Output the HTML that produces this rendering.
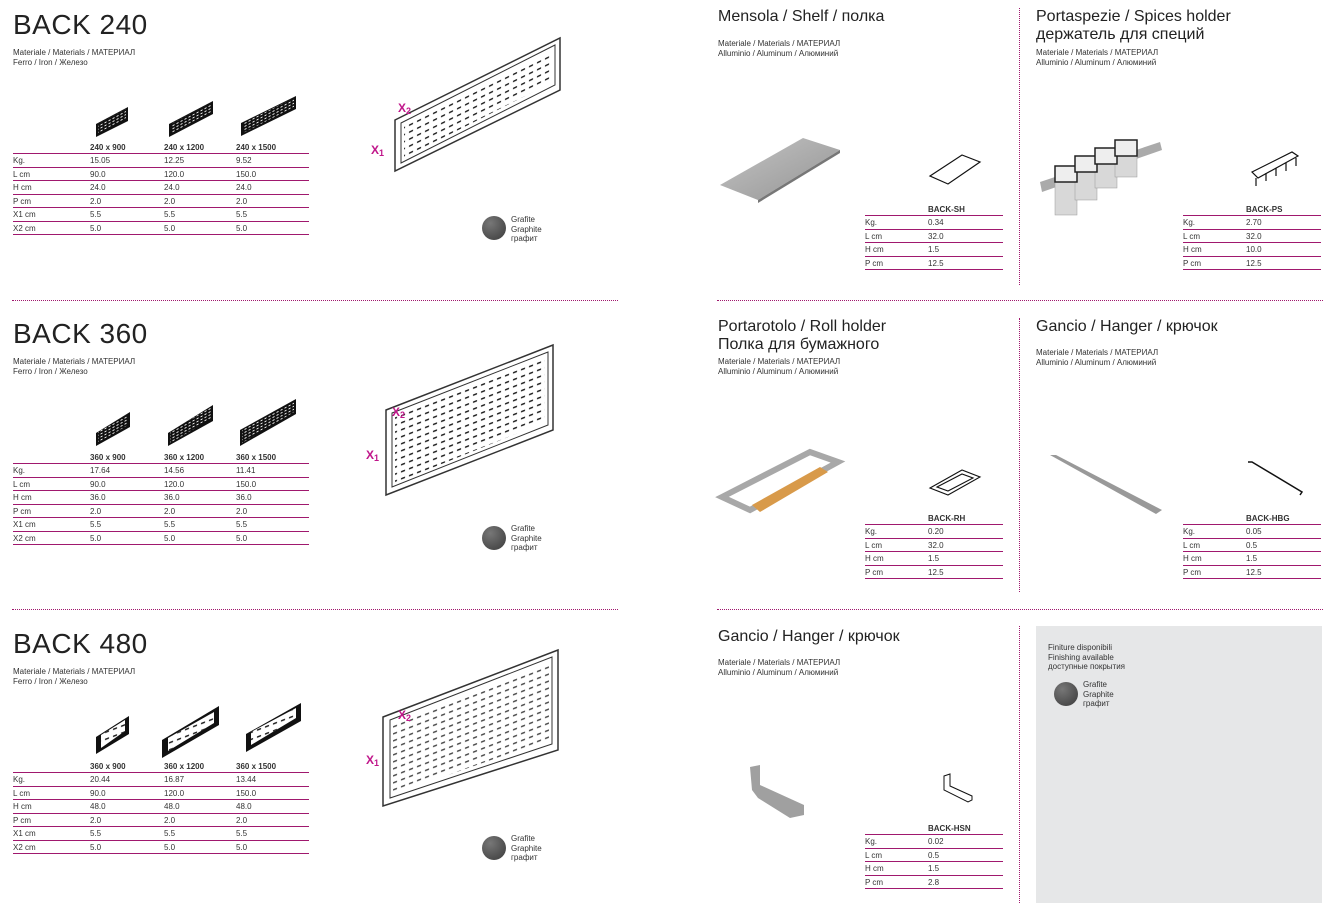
<!DOCTYPE html>
<html><head><meta charset="utf-8">
<style>
*{margin:0;padding:0;box-sizing:border-box}
body{width:1330px;height:910px;background:#fff;position:relative;overflow:hidden;font-family:"Liberation Sans","DejaVu Sans",sans-serif;color:#222}
.a{position:absolute}
.t1{font-size:28px;letter-spacing:0.5px;color:#222;line-height:28px}
.t2{font-size:16px;color:#222;line-height:18px}
.m{font-size:8px;line-height:9.5px;color:#333}
.tb{position:absolute;font-size:8px;color:#333}
.tb .r{height:14px;line-height:13px;border-bottom:1px solid #a0186e;position:relative}
.tb .r:nth-child(odd){height:13px}
.tb .h{font-weight:bold;border-bottom:1px solid #a0186e;height:11px!important;line-height:10px}
.tb span{position:absolute;top:0}
.hd{position:absolute;border-top:1px dotted #a0186e;height:0}
.vd{position:absolute;border-left:1px dotted #a0186e;width:0}
.dot{position:absolute;width:24px;height:24px;border-radius:50%;background:radial-gradient(circle at 35% 30%,#777,#3a3a3a)}
</style></head><body>

<div class="hd" style="left:12px;top:300px;width:606px"></div>
<div class="hd" style="left:12px;top:609px;width:606px"></div>
<div class="hd" style="left:717px;top:300px;width:606px"></div>
<div class="hd" style="left:717px;top:609px;width:606px"></div>
<div class="vd" style="left:1019px;top:8px;height:277px"></div>
<div class="vd" style="left:1019px;top:318px;height:274px"></div>
<div class="vd" style="left:1019px;top:626px;height:277px"></div>
<div class="a" style="left:1036px;top:626px;width:286px;height:277px;background:#e6e7e8"></div>

<div class="a t1" style="left:13px;top:11px">BACK 240</div>
<div class="a m" style="left:13px;top:48px">Materiale / Materials / МАТЕРИАЛ<br>Ferro / Iron / Железо</div>
<div class="a t1" style="left:13px;top:320px">BACK 360</div>
<div class="a m" style="left:13px;top:357px">Materiale / Materials / МАТЕРИАЛ<br>Ferro / Iron / Железо</div>
<div class="a t1" style="left:13px;top:630px">BACK 480</div>
<div class="a m" style="left:13px;top:667px">Materiale / Materials / МАТЕРИАЛ<br>Ferro / Iron / Железо</div>

<div class="tb" style="left:13px;top:143px;width:296px">
<div class="r h"><span style="left:77px">240 x 900</span><span style="left:151px">240 x 1200</span><span style="left:223px">240 x 1500</span></div>
<div class="r"><span>Kg.</span><span style="left:77px">15.05</span><span style="left:151px">12.25</span><span style="left:223px">9.52</span></div>
<div class="r"><span>L cm</span><span style="left:77px">90.0</span><span style="left:151px">120.0</span><span style="left:223px">150.0</span></div>
<div class="r"><span>H cm</span><span style="left:77px">24.0</span><span style="left:151px">24.0</span><span style="left:223px">24.0</span></div>
<div class="r"><span>P cm</span><span style="left:77px">2.0</span><span style="left:151px">2.0</span><span style="left:223px">2.0</span></div>
<div class="r"><span>X1 cm</span><span style="left:77px">5.5</span><span style="left:151px">5.5</span><span style="left:223px">5.5</span></div>
<div class="r"><span>X2 cm</span><span style="left:77px">5.0</span><span style="left:151px">5.0</span><span style="left:223px">5.0</span></div>
</div>
<div class="tb" style="left:13px;top:453px;width:296px">
<div class="r h"><span style="left:77px">360 x 900</span><span style="left:151px">360 x 1200</span><span style="left:223px">360 x 1500</span></div>
<div class="r"><span>Kg.</span><span style="left:77px">17.64</span><span style="left:151px">14.56</span><span style="left:223px">11.41</span></div>
<div class="r"><span>L cm</span><span style="left:77px">90.0</span><span style="left:151px">120.0</span><span style="left:223px">150.0</span></div>
<div class="r"><span>H cm</span><span style="left:77px">36.0</span><span style="left:151px">36.0</span><span style="left:223px">36.0</span></div>
<div class="r"><span>P cm</span><span style="left:77px">2.0</span><span style="left:151px">2.0</span><span style="left:223px">2.0</span></div>
<div class="r"><span>X1 cm</span><span style="left:77px">5.5</span><span style="left:151px">5.5</span><span style="left:223px">5.5</span></div>
<div class="r"><span>X2 cm</span><span style="left:77px">5.0</span><span style="left:151px">5.0</span><span style="left:223px">5.0</span></div>
</div>
<div class="tb" style="left:13px;top:762px;width:296px">
<div class="r h"><span style="left:77px">360 x 900</span><span style="left:151px">360 x 1200</span><span style="left:223px">360 x 1500</span></div>
<div class="r"><span>Kg.</span><span style="left:77px">20.44</span><span style="left:151px">16.87</span><span style="left:223px">13.44</span></div>
<div class="r"><span>L cm</span><span style="left:77px">90.0</span><span style="left:151px">120.0</span><span style="left:223px">150.0</span></div>
<div class="r"><span>H cm</span><span style="left:77px">48.0</span><span style="left:151px">48.0</span><span style="left:223px">48.0</span></div>
<div class="r"><span>P cm</span><span style="left:77px">2.0</span><span style="left:151px">2.0</span><span style="left:223px">2.0</span></div>
<div class="r"><span>X1 cm</span><span style="left:77px">5.5</span><span style="left:151px">5.5</span><span style="left:223px">5.5</span></div>
<div class="r"><span>X2 cm</span><span style="left:77px">5.0</span><span style="left:151px">5.0</span><span style="left:223px">5.0</span></div>
</div>

<svg class="a" style="left:0;top:0" width="640" height="910">
<defs>
<pattern id="h1" width="8" height="7" patternUnits="userSpaceOnUse" patternTransform="skewY(-26)"><rect x="1" y="2" width="4" height="1.6" fill="#222"/></pattern>
<pattern id="h2" width="8" height="7" patternUnits="userSpaceOnUse" patternTransform="skewY(-21)"><rect x="1" y="2" width="4" height="1.6" fill="#222"/></pattern>
<pattern id="hs" width="4" height="3" patternUnits="userSpaceOnUse" patternTransform="skewY(-28)"><rect x="0.5" y="1" width="2" height="1" fill="#fff"/></pattern>
</defs>
<g fill="#111"><polygon points="96,124 128,107 128,121 96,137"/><polygon points="169,124 213,101 213,114 169,137"/><polygon points="241,123 296,96 296,109 241,136"/></g>
<g fill="url(#hs)"><polygon points="98,124 126,109 126,119 98,134"/><polygon points="171,124 211,103 211,112 171,134"/><polygon points="243,123 294,98 294,107 243,133"/></g>
<g fill="#111"><polygon points="96,433 130,412 130,427 96,446"/><polygon points="168,433 213,405 213,421 168,446"/><polygon points="240,430 296,399 296,414 240,446"/></g>
<g fill="url(#hs)"><polygon points="98,432 128,414 128,425 98,443"/><polygon points="170,432 211,407 211,419 170,443"/><polygon points="242,429 294,401 294,412 242,443"/></g>
<g fill="#111"><polygon points="96,737 129,716 129,734 96,754" /><polygon points="162,740 219,706 219,725 162,758"/><polygon points="246,734 301,703 301,721 246,752"/></g>
<g fill="#fff"><polygon points="101,735 125,720 125,731 101,748"/><polygon points="168,738 214,712 214,723 168,751"/><polygon points="251,732 296,708 296,718 251,745"/></g>
<g fill="url(#h2)"><polygon points="101,735 125,720 125,731 101,748"/><polygon points="168,738 214,712 214,723 168,751"/><polygon points="251,732 296,708 296,718 251,745"/></g>

<g stroke="#333" fill="none" stroke-width="1">
<polygon points="395,120 560,38 560,90 395,171" stroke-width="1.5"/>
<polygon points="401,123 555,45 555,85 401,163"/>
<polygon points="386,410 553,345 553,430 386,495" stroke-width="1.5"/>
<polygon points="392,413 548,352 548,425 392,487"/>
<polygon points="383,717 558,650 558,750 383,806" stroke-width="1.5"/>
<polygon points="390,720 552,657 552,744 390,798"/>
</g>
<polygon points="404,126 552,51 552,82 404,158" fill="url(#h1)"/>
<polygon points="395,417 545,358 545,422 395,483" fill="url(#h2)"/>
<polygon points="393,724 549,663 549,740 393,794" fill="url(#h2)" opacity="0.8"/>
<g fill="#c0168a" font-family="Liberation Sans,sans-serif" font-size="12" font-weight="bold">
<text x="398" y="112">X</text><text x="406" y="114" font-size="9">2</text>
<text x="371" y="154">X</text><text x="379" y="156" font-size="9">1</text>
<text x="392" y="416">X</text><text x="400" y="418" font-size="9">2</text>
<text x="366" y="459">X</text><text x="374" y="461" font-size="9">1</text>
<text x="398" y="719">X</text><text x="406" y="721" font-size="9">2</text>
<text x="366" y="764">X</text><text x="374" y="766" font-size="9">1</text>
</g>
</svg>

<div class="dot" style="left:482px;top:216px"></div>
<div class="a m" style="left:511px;top:215px">Grafite<br>Graphite<br>графит</div>
<div class="dot" style="left:482px;top:526px"></div>
<div class="a m" style="left:511px;top:524px">Grafite<br>Graphite<br>графит</div>
<div class="dot" style="left:482px;top:836px"></div>
<div class="a m" style="left:511px;top:834px">Grafite<br>Graphite<br>графит</div>

<div class="a t2" style="left:718px;top:8px">Mensola / Shelf / полка</div>
<div class="a m" style="left:718px;top:39px">Materiale / Materials / МАТЕРИАЛ<br>Alluminio / Aluminum / Алюминий</div>
<div class="a t2" style="left:1036px;top:8px">Portaspezie / Spices holder<br>держатель для специй</div>
<div class="a m" style="left:1036px;top:48px">Materiale / Materials / МАТЕРИАЛ<br>Alluminio / Aluminum / Алюминий</div>
<div class="a t2" style="left:718px;top:318px">Portarotolo / Roll holder<br>Полка для бумажного</div>
<div class="a m" style="left:718px;top:357px">Materiale / Materials / МАТЕРИАЛ<br>Alluminio / Aluminum / Алюминий</div>
<div class="a t2" style="left:1036px;top:318px">Gancio / Hanger / крючок</div>
<div class="a m" style="left:1036px;top:348px">Materiale / Materials / МАТЕРИАЛ<br>Alluminio / Aluminum / Алюминий</div>
<div class="a t2" style="left:718px;top:628px">Gancio / Hanger / крючок</div>
<div class="a m" style="left:718px;top:658px">Materiale / Materials / МАТЕРИАЛ<br>Alluminio / Aluminum / Алюминий</div>

<div class="a m" style="left:1048px;top:643px">Finiture disponibili<br>Finishing available<br>доступные покрытия</div>
<div class="dot" style="left:1054px;top:682px"></div>
<div class="a m" style="left:1083px;top:680px">Grafite<br>Graphite<br>графит</div>

<div class="tb" style="left:865px;top:205px;width:138px">
<div class="r h"><span style="left:63px">BACK-SH</span></div>
<div class="r"><span>Kg.</span><span style="left:63px">0.34</span></div>
<div class="r"><span>L cm</span><span style="left:63px">32.0</span></div>
<div class="r"><span>H cm</span><span style="left:63px">1.5</span></div>
<div class="r"><span>P cm</span><span style="left:63px">12.5</span></div>
</div>
<div class="tb" style="left:1183px;top:205px;width:138px">
<div class="r h"><span style="left:63px">BACK-PS</span></div>
<div class="r"><span>Kg.</span><span style="left:63px">2.70</span></div>
<div class="r"><span>L cm</span><span style="left:63px">32.0</span></div>
<div class="r"><span>H cm</span><span style="left:63px">10.0</span></div>
<div class="r"><span>P cm</span><span style="left:63px">12.5</span></div>
</div>
<div class="tb" style="left:865px;top:514px;width:138px">
<div class="r h"><span style="left:63px">BACK-RH</span></div>
<div class="r"><span>Kg.</span><span style="left:63px">0.20</span></div>
<div class="r"><span>L cm</span><span style="left:63px">32.0</span></div>
<div class="r"><span>H cm</span><span style="left:63px">1.5</span></div>
<div class="r"><span>P cm</span><span style="left:63px">12.5</span></div>
</div>
<div class="tb" style="left:1183px;top:514px;width:138px">
<div class="r h"><span style="left:63px">BACK-HBG</span></div>
<div class="r"><span>Kg.</span><span style="left:63px">0.05</span></div>
<div class="r"><span>L cm</span><span style="left:63px">0.5</span></div>
<div class="r"><span>H cm</span><span style="left:63px">1.5</span></div>
<div class="r"><span>P cm</span><span style="left:63px">12.5</span></div>
</div>
<div class="tb" style="left:865px;top:824px;width:138px">
<div class="r h"><span style="left:63px">BACK-HSN</span></div>
<div class="r"><span>Kg.</span><span style="left:63px">0.02</span></div>
<div class="r"><span>L cm</span><span style="left:63px">0.5</span></div>
<div class="r"><span>H cm</span><span style="left:63px">1.5</span></div>
<div class="r"><span>P cm</span><span style="left:63px">2.8</span></div>
</div>

<svg class="a" style="left:700px;top:0" width="630" height="910">
<defs>
<linearGradient id="g" x1="0" y1="0" x2="1" y2="1"><stop offset="0" stop-color="#c4c4c4"/><stop offset="1" stop-color="#949494"/></linearGradient>
</defs>
<polygon points="20,185 103,138 140,150 58,200" fill="url(#g)"/>
<polygon points="58,200 140,150 140,153 58,203" fill="#777"/>
<g fill="none" stroke="#111" stroke-width="1.2">
<polygon points="230,176 262,155 280,162 248,184"/>
</g>
<polygon points="340,182 460,142 462,150 342,192" fill="#aaa"/>
<g fill="#d8d8d8" stroke="#999" stroke-width="0.5">
<rect x="355" y="170" width="22" height="45"/><rect x="375" y="160" width="22" height="40"/><rect x="395" y="150" width="22" height="38"/><rect x="415" y="142" width="22" height="35"/>
</g>
<g fill="#eee" stroke="#222" stroke-width="1.5">
<rect x="355" y="166" width="22" height="16"/><rect x="375" y="156" width="22" height="16"/><rect x="395" y="148" width="22" height="16"/><rect x="415" y="140" width="22" height="16"/>
</g>
<g fill="none" stroke="#111" stroke-width="1.2">
<polygon points="552,172 592,152 598,156 558,178"/><path d="M556,178v8M566,173v8M576,168v8M586,163v8M596,158v8"/>
</g>
<g fill="none" stroke="#a8a8a8" stroke-width="6">
<polygon points="22,497 110,452 138,462 50,510"/>
</g>
<polygon points="52,505 120,467 128,472 60,512" fill="#d89a4a"/>
<g fill="none" stroke="#111" stroke-width="1.1">
<polygon points="230,488 262,470 280,477 248,495"/><polygon points="237,487 262,474 273,478 248,491"/>
</g>
<polygon points="350,455 356,455 462,510 456,514" fill="#999"/>
<polyline points="548,462 552,462 602,492 600,495" fill="none" stroke="#111" stroke-width="1.5"/>
<polygon points="50,767 60,765 60,785 104,805 104,815 90,818 58,798 52,790" fill="#a0a0a0"/>
<g fill="none" stroke="#111" stroke-width="1"><path d="M244,776l6,-2v12l22,10v4l-4,2l-24,-12z"/></g>
</svg>
</body></html>
